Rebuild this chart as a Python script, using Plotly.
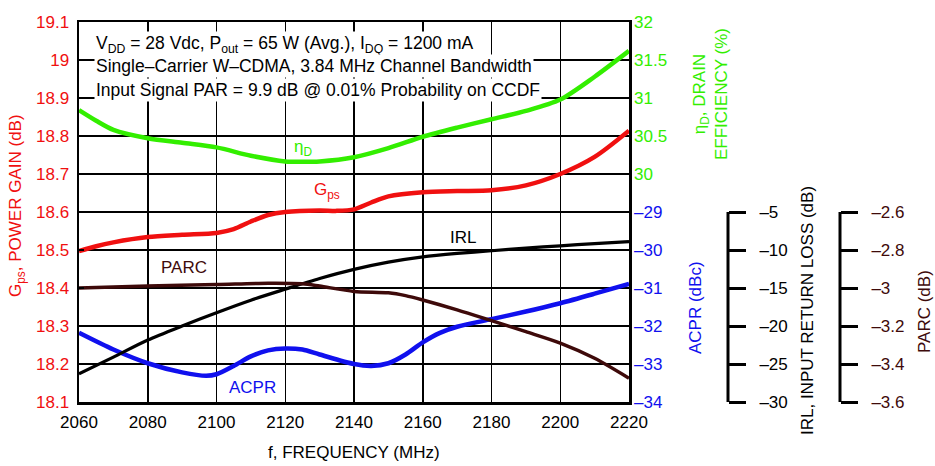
import plotly.graph_objects as go

# ---------------- data ----------------
freq_gps = [2060, 2065, 2070, 2080, 2090, 2100, 2105, 2110, 2115, 2120, 2130, 2135, 2140, 2145, 2150, 2160, 2170, 2180, 2190, 2200, 2210, 2220]
gps = [18.497, 18.51, 18.52, 18.534, 18.540, 18.545, 18.555, 18.575, 18.592, 18.600, 18.604, 18.603, 18.607, 18.625, 18.641, 18.652, 18.655, 18.657, 18.67, 18.70, 18.745, 18.814]

freq_eff = [2060, 2065, 2070, 2080, 2090, 2100, 2110, 2120, 2125, 2130, 2140, 2150, 2160, 2170, 2180, 2190, 2200, 2210, 2220]
eff = [30.84, 30.70, 30.58, 30.47, 30.41, 30.35, 30.24, 30.165, 30.16, 30.165, 30.22, 30.34, 30.49, 30.61, 30.72, 30.83, 30.98, 31.28, 31.62]

freq_acpr = [2060, 2070, 2080, 2090, 2097, 2100, 2105, 2110, 2115, 2120, 2125, 2130, 2140, 2145, 2150, 2155, 2160, 2165, 2170, 2180, 2190, 2200, 2210, 2220]
acpr = [-32.18, -32.62, -32.98, -33.22, -33.31, -33.27, -33.05, -32.80, -32.64, -32.59, -32.62, -32.75, -33.00, -33.05, -32.98, -32.75, -32.43, -32.18, -32.02, -31.82, -31.62, -31.40, -31.15, -30.89]

freq_irl = [2060, 2070, 2080, 2090, 2100, 2110, 2120, 2130, 2140, 2150, 2160, 2170, 2180, 2190, 2200, 2210, 2220]
irl = [-26.3, -24.1, -21.85, -20.0, -18.25, -16.6, -15.15, -13.75, -12.55, -11.6, -10.9, -10.45, -10.1, -9.75, -9.45, -9.15, -8.9]

freq_parc = [2060, 2080, 2100, 2115, 2125, 2130, 2140, 2150, 2155, 2160, 2170, 2180, 2190, 2200, 2210, 2220]
parc = [-3.00, -2.99, -2.982, -2.975, -2.978, -2.99, -3.018, -3.025, -3.04, -3.063, -3.115, -3.172, -3.23, -3.29, -3.37, -3.475]

x_ticks = [2060, 2080, 2100, 2120, 2140, 2160, 2180, 2200, 2220]
gps_ticks = [18.1, 18.2, 18.3, 18.4, 18.5, 18.6, 18.7, 18.8, 18.9, 19.0, 19.1]
gps_labels = ["18.1", "18.2", "18.3", "18.4", "18.5", "18.6", "18.7", "18.8", "18.9", "19", "19.1"]
eff_ticks = [30, 30.5, 31, 31.5, 32]
eff_labels = ["30", "30.5", "31", "31.5", "32"]
acpr_ticks = [-34, -33, -32, -31, -30, -29]
acpr_labels = ["–34", "–33", "–32", "–31", "–30", "–29"]
irl_ticks = [-30, -25, -20, -15, -10, -5]
irl_labels = ["–30", "–25", "–20", "–15", "–10", "–5"]
parc_ticks = [-3.6, -3.4, -3.2, -3.0, -2.8, -2.6]
parc_labels = ["–3.6", "–3.4", "–3.2", "–3", "–2.8", "–2.6"]

# ---------------- styling ----------------
RED = "#F01010"
GREEN = "#33EE00"
BLUE = "#1010EE"
BROWN = "#3E0A0A"
FONT = "Liberation Sans, Arial, sans-serif"
FS = 17
W, H = 935, 466
ML, MR, MT, MB = 79, 10, 22, 64
PW = W - ML - MR
PH = H - MT - MB
PLOT_R = 629


def px(xp):
    return (xp - ML) / PW


def py(yp):
    return (H - MB - yp) / PH


fig = go.Figure()
fig.add_trace(go.Scatter(x=freq_parc, y=parc, yaxis="y5", mode="lines",
                         line=dict(color=BROWN, width=3.5, shape="spline", smoothing=0.8)))
fig.add_trace(go.Scatter(x=freq_irl, y=irl, yaxis="y4", mode="lines",
                         line=dict(color="black", width=3.2, shape="spline", smoothing=0.8)))
fig.add_trace(go.Scatter(x=freq_acpr, y=acpr, yaxis="y3", mode="lines",
                         line=dict(color=BLUE, width=4.5, shape="spline", smoothing=0.8)))
fig.add_trace(go.Scatter(x=freq_eff, y=eff, yaxis="y2", mode="lines",
                         line=dict(color=GREEN, width=4.5, shape="spline", smoothing=0.8)))
fig.add_trace(go.Scatter(x=freq_gps, y=gps, yaxis="y", mode="lines",
                         line=dict(color=RED, width=4.5, shape="spline", smoothing=0.8)))

common = dict(showgrid=False, zeroline=False, showline=False, fixedrange=True, automargin=False)

fig.update_layout(
    width=W, height=H,
    margin=dict(l=ML, r=MR, t=MT, b=MB, autoexpand=False),
    paper_bgcolor="white", plot_bgcolor="white",
    showlegend=False,
    font=dict(family=FONT, size=FS, color="black"),
    xaxis=dict(domain=[0, (PLOT_R - ML) / PW], range=[2060, 2220],
               tickvals=x_ticks, ticktext=[str(v) for v in x_ticks],
               showgrid=True, gridcolor="black", gridwidth=1.5,
               showline=True, linecolor="black", linewidth=2.5, mirror=True,
               zeroline=False, ticks="", ticklabelstandoff=3, automargin=False,
               tickfont=dict(size=FS, color="black", family=FONT)),
    yaxis=dict(range=[18.1, 19.1], tickvals=gps_ticks, ticktext=gps_labels,
               showgrid=True, gridcolor="black", gridwidth=1.5,
               showline=True, linecolor="black", linewidth=2.5, mirror=True,
               zeroline=False, ticks="inside", ticklen=5, tickwidth=1.5, tickcolor="black",
               ticklabelstandoff=4, automargin=False,
               tickfont=dict(size=FS, color=RED, family=FONT)),
    yaxis2=dict(overlaying="y", side="right", anchor="x", range=[27, 32],
                tickvals=eff_ticks, ticktext=eff_labels, ticks="", ticklabelstandoff=4,
                tickfont=dict(size=FS, color=GREEN, family=FONT), **common),
    yaxis3=dict(overlaying="y", side="right", anchor="x", range=[-34, -24],
                tickvals=acpr_ticks, ticktext=acpr_labels, ticks="", ticklabelstandoff=4,
                tickfont=dict(size=FS, color=BLUE, family=FONT), **common),
    yaxis4=dict(overlaying="y", side="right", anchor="free", position=px(728), range=[-30, 20],
                tickvals=irl_ticks, ticktext=irl_labels, ticks="outside", ticklen=17,
                tickwidth=3, tickcolor="black", ticklabelstandoff=10,
                tickfont=dict(size=FS, color="black", family=FONT), **common),
    yaxis5=dict(overlaying="y", side="right", anchor="free", position=px(840), range=[-3.6, -1.6],
                tickvals=parc_ticks, ticktext=parc_labels, ticks="outside", ticklen=17,
                tickwidth=3, tickcolor="black", ticklabelstandoff=10,
                tickfont=dict(size=FS, color=BROWN, family=FONT), **common),
)

# vertical spines of the two floating axes
fig.add_shape(type="line", xref="paper", yref="y4", x0=px(728), x1=px(728),
              y0=irl_ticks[0], y1=irl_ticks[-1], line=dict(color="black", width=3))
fig.add_shape(type="line", xref="paper", yref="y5", x0=px(840), x1=px(840),
              y0=parc_ticks[0], y1=parc_ticks[-1], line=dict(color="black", width=3))

ann = []
# condition text block
cond_lines = [
    "V<sub>DD</sub> = 28 Vdc, P<sub>out</sub> = 65 W (Avg.), I<sub>DQ</sub> = 1200 mA",
    "Single–Carrier W–CDMA, 3.84 MHz Channel Bandwidth",
    "Input Signal PAR = 9.9 dB @ 0.01% Probability on CCDF",
]
for i, (t, yc) in enumerate(zip(cond_lines, [45, 66, 90])):
    ann.append(dict(text=t, xref="paper", yref="paper", x=px(94), y=py(yc),
                    xanchor="left", yanchor="middle", showarrow=False, align="left",
                    bgcolor="white", borderpad=1, font=dict(size=17.5, color="black", family=FONT)))

# curve labels
labels = [
    ("η<sub>D</sub>", 303, 148, GREEN),
    ("G<sub>ps</sub>", 327, 191, RED),
    ("IRL", 463, 237, "black"),
    ("PARC", 184, 267, BROWN),
    ("ACPR", 252, 387, BLUE),
]
for t, xx, yy, c in labels:
    ann.append(dict(text=t, xref="paper", yref="paper", x=px(xx), y=py(yy),
                    xanchor="center", yanchor="middle", showarrow=False,
                    font=dict(size=FS, color=c, family=FONT)))

# axis titles
titles = [
    ("G<sub>ps</sub>, POWER GAIN (dB)", 17, 206, RED),
    ("η<sub>D</sub>, DRAIN<br>EFFICIENCY (%)", 710, 94, GREEN),
    ("ACPR (dBc)", 695, 308, BLUE),
    ("IRL, INPUT RETURN LOSS (dB)", 807, 311, "black"),
    ("PARC (dB)", 924, 312, BROWN),
]
for t, xx, yy, c in titles:
    ann.append(dict(text=t, xref="paper", yref="paper", x=px(xx), y=py(yy),
                    xanchor="center", yanchor="middle", showarrow=False, textangle=-90,
                    font=dict(size=FS, color=c, family=FONT)))

ann.append(dict(text="f, FREQUENCY (MHz)", xref="paper", yref="paper", x=px(354), y=py(452),
                xanchor="center", yanchor="middle", showarrow=False,
                font=dict(size=FS, color="black", family=FONT)))

fig.update_layout(annotations=ann)

fig.write_html("out.html", config={"displayModeBar": False, "staticPlot": True},
               post_script="document.body.style.margin='0px';document.body.style.overflow='hidden';")
